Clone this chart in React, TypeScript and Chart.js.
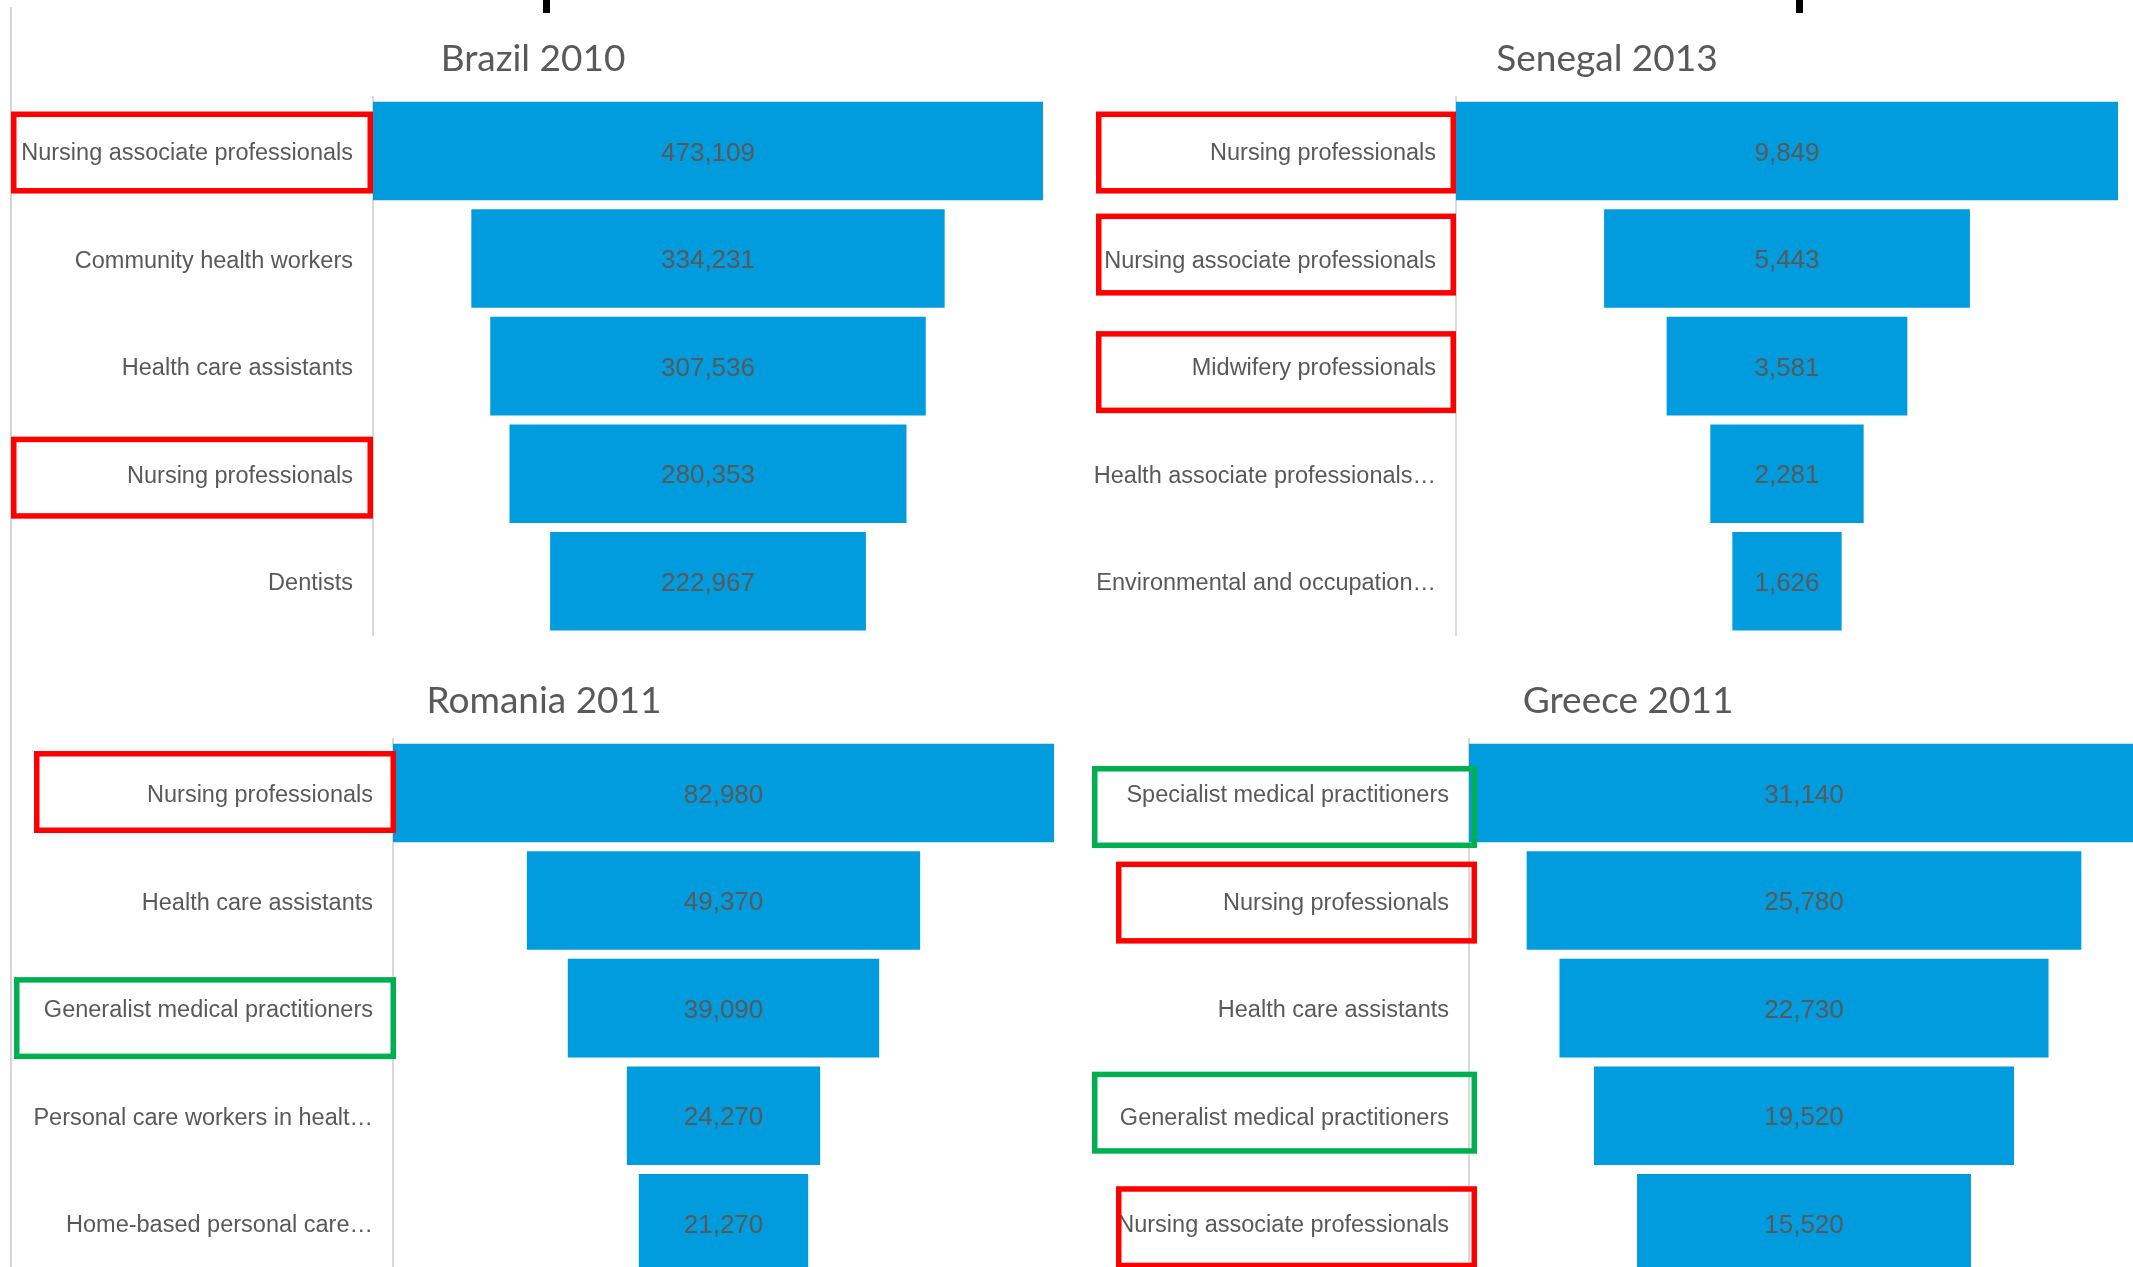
import React, { useEffect, useRef } from 'react';
import { Chart, registerables } from 'chart.js';

Chart.register(...registerables);

// ---------- DATA ----------
const brazilTitle = 'Brazil 2010';
const brazilLabels = [
  'Nursing associate professionals',
  'Community health workers',
  'Health care assistants',
  'Nursing professionals',
  'Dentists',
];
const brazilValues = [473109, 334231, 307536, 280353, 222967];
const brazilHighlights = ['nursing', '', '', 'nursing', ''];

const senegalTitle = 'Senegal 2013';
const senegalLabels = [
  'Nursing professionals',
  'Nursing associate professionals',
  'Midwifery professionals',
  'Health associate professionals…',
  'Environmental and occupation…',
];
const senegalValues = [9849, 5443, 3581, 2281, 1626];
const senegalHighlights = ['nursing', 'nursing', 'nursing', '', ''];

const romaniaTitle = 'Romania 2011';
const romaniaLabels = [
  'Nursing professionals',
  'Health care assistants',
  'Generalist medical practitioners',
  'Personal care workers in healt…',
  'Home-based personal care…',
];
const romaniaValues = [82980, 49370, 39090, 24270, 21270];
const romaniaHighlights = ['nursing', '', 'physician', '', ''];

const greeceTitle = 'Greece 2011';
const greeceLabels = [
  'Specialist medical practitioners',
  'Nursing professionals',
  'Health care assistants',
  'Generalist medical practitioners',
  'Nursing associate professionals',
];
const greeceValues = [31140, 25780, 22730, 19520, 15520];
const greeceHighlights = ['physician', 'nursing', '', 'physician', 'nursing'];

// ---------- STYLE ----------
const STYLE: Record<string, string> = {
  bar: '#019CDE',
  text: '#595959',
  axis: '#d9d9d9',
  nursing: '#FF0000',
  physician: '#00B050',
};
const LABEL_FONT = "'Liberation Sans', Arial, sans-serif";
const TITLE_FONT = "Lato, 'Open Sans', sans-serif";
const BOX_H = 82;
const BOX_LW = 5.5;

// ---------- LAYOUT ----------
type BoxGeom = { left: number; extend: number; dy: number };
type Layout = {
  x: number; y: number; w: number; h: number;
  axisW: number; rightGap: number;
  boxes: Record<number, BoxGeom>;
};

const PAD_R = 10;

const brazilLayout: Layout = {
  x: 0, y: 0, w: 1066 + PAD_R, h: 675, axisW: 373, rightGap: 23,
  boxes: { 0: { left: 11, extend: 0, dy: 1.5 }, 3: { left: 11, extend: 0, dy: 4 } },
};
const senegalLayout: Layout = {
  x: 1066, y: 0, w: 1082 + PAD_R, h: 675, axisW: 390, rightGap: 30,
  boxes: {
    0: { left: 1096, extend: 0, dy: 1.5 },
    1: { left: 1096, extend: 0, dy: -4 },
    2: { left: 1096, extend: 0, dy: 6 },
  },
};
const romaniaLayout: Layout = {
  x: 0, y: 642, w: 1088 + PAD_R, h: 675, axisW: 393, rightGap: 34,
  boxes: { 0: { left: 34, extend: 3, dy: -1 }, 2: { left: 14, extend: 3, dy: 10 } },
};
const greeceLayout: Layout = {
  x: 1066, y: 642, w: 1124 + PAD_R, h: 675, axisW: 403, rightGap: 51,
  boxes: {
    0: { left: 1092, extend: 8, dy: 14 },
    1: { left: 1116, extend: 8, dy: 2 },
    3: { left: 1092, extend: 8, dy: -3 },
    4: { left: 1116, extend: 8, dy: 4 },
  },
};

type PanelProps = {
  title: string;
  labels: string[];
  values: number[];
  highlights: string[];
  layout: Layout;
};

function FunnelPanel({ title, labels, values, highlights, layout }: PanelProps) {
  const ref = useRef<HTMLCanvasElement>(null);

  useEffect(() => {
    const canvas = ref.current;
    if (!canvas) return;
    const max = Math.max(...values);
    const floating = values.map((v) => [(max - v) / 2, (max + v) / 2]);

    const valueLabels = {
      id: 'valueLabels',
      afterDatasetsDraw(chart: any) {
        const ctx = chart.ctx;
        const meta = chart.getDatasetMeta(0);
        ctx.save();
        ctx.font = `26px ${LABEL_FONT}`;
        ctx.fillStyle = STYLE.text;
        ctx.textAlign = 'center';
        ctx.textBaseline = 'middle';
        meta.data.forEach((el: any, i: number) => {
          const cx = (el.x + el.base) / 2;
          ctx.fillText(values[i].toLocaleString('en-US'), cx, el.y + 2.5);
        });
        ctx.restore();
      },
    };

    const boxes = {
      id: 'highlightBoxes',
      afterDraw(chart: any) {
        const ctx = chart.ctx;
        const yScale = chart.scales.y;
        ctx.save();
        highlights.forEach((kind, i) => {
          if (!kind) return;
          const g = layout.boxes[i];
          if (!g) return;
          const cy = yScale.getPixelForValue(i) + g.dy;
          const left = g.left - layout.x;
          const right = chart.chartArea.left + g.extend;
          ctx.strokeStyle = STYLE[kind];
          ctx.lineWidth = BOX_LW;
          ctx.strokeRect(
            left + BOX_LW / 2,
            cy - BOX_H / 2 + BOX_LW / 2,
            right - left - BOX_LW,
            BOX_H - BOX_LW
          );
        });
        ctx.restore();
      },
    };

    const titleSize = 37;
    const titleLH = titleSize * 1.2;
    const titleCenter = 59.5;
    const areaTop = 97.25;
    const padTop = titleCenter - titleLH / 2;
    const padBottom = areaTop - padTop - titleLH;

    const chart = new Chart(canvas, {
      type: 'bar',
      data: {
        labels,
        datasets: [
          {
            data: floating as any,
            backgroundColor: STYLE.bar,
            borderWidth: 0,
            barPercentage: 1,
            categoryPercentage: 0.916,
          },
        ],
      },
      options: {
        indexAxis: 'y',
        responsive: false,
        animation: false,
        devicePixelRatio: 1,
        layout: { padding: { left: 0, right: PAD_R, top: 0, bottom: 40 } },
        plugins: {
          legend: { display: false },
          tooltip: { enabled: false },
          title: {
            display: true,
            text: title,
            color: STYLE.text,
            font: { family: TITLE_FONT, size: titleSize, weight: 'normal', lineHeight: 1.2 },
            padding: { top: padTop, bottom: padBottom },
          },
        },
        scales: {
          x: { type: 'linear', min: 0, max, display: false },
          y: {
            type: 'category',
            grid: { display: false, drawTicks: false },
            border: { display: true, color: STYLE.axis, width: 2 },
            ticks: {
              color: STYLE.text,
              padding: 20,
              labelOffset: 2.5,
              font: { family: LABEL_FONT, size: 23.5 },
            },
            afterFit: (scale: any) => {
              scale.width = layout.axisW;
            },
          },
          yGap: {
            type: 'category',
            position: 'right',
            grid: { display: false, drawTicks: false },
            border: { display: false },
            ticks: { display: false },
            afterFit: (scale: any) => {
              scale.width = layout.rightGap;
            },
          },
        },
      },
      plugins: [valueLabels, boxes],
    } as any);

    return () => chart.destroy();
  }, []);

  return (
    <canvas
      ref={ref}
      width={layout.w}
      height={layout.h}
      style={{
        position: 'absolute',
        left: layout.x,
        top: layout.y,
        width: layout.w,
        height: layout.h,
      }}
    />
  );
}

export default function App() {
  useEffect(() => {
    document.body.style.margin = '0';
    document.body.style.overflow = 'hidden';
  }, []);

  return (
    <div
      style={{
        position: 'absolute',
        left: 0,
        top: 0,
        width: 2133,
        height: 1267,
        overflow: 'hidden',
        background: '#ffffff',
      }}
    >
      <div style={{ position: 'absolute', left: 10, top: 7, width: 2, height: 1260, background: '#d4d4d4' }} />
      <div style={{ position: 'absolute', left: 543, top: 0, width: 7, height: 13, background: '#000' }} />
      <div style={{ position: 'absolute', left: 1796, top: 0, width: 7, height: 13, background: '#000' }} />
      <FunnelPanel title={brazilTitle} labels={brazilLabels} values={brazilValues} highlights={brazilHighlights} layout={brazilLayout} />
      <FunnelPanel title={senegalTitle} labels={senegalLabels} values={senegalValues} highlights={senegalHighlights} layout={senegalLayout} />
      <FunnelPanel title={romaniaTitle} labels={romaniaLabels} values={romaniaValues} highlights={romaniaHighlights} layout={romaniaLayout} />
      <FunnelPanel title={greeceTitle} labels={greeceLabels} values={greeceValues} highlights={greeceHighlights} layout={greeceLayout} />
    </div>
  );
}
